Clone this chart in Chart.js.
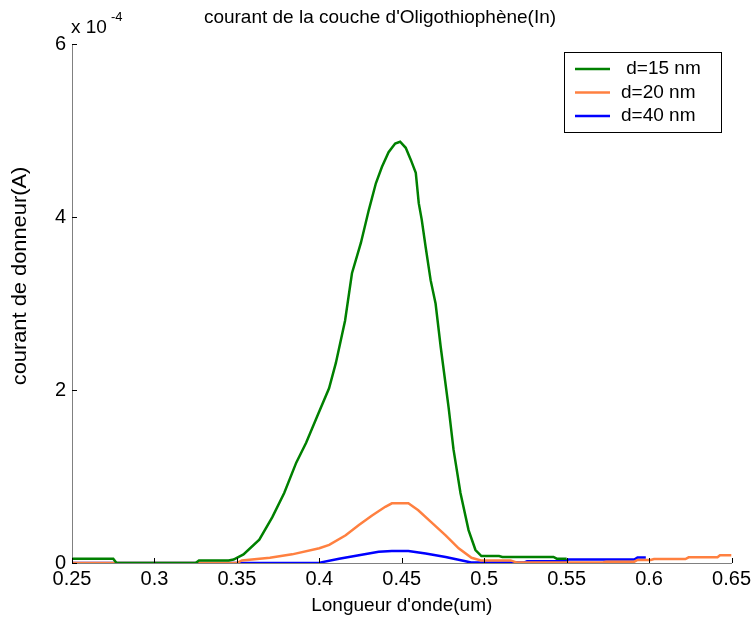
<!DOCTYPE html>
<html>
<head>
<meta charset="utf-8">
<script src="https://cdn.jsdelivr.net/npm/chart.js@4.4.1/dist/chart.umd.min.js"></script>
<style>
  html, body { margin: 0; padding: 0; background: #ffffff; }
  #wrap { width: 755px; height: 622px; position: relative; }
</style>
</head>
<body>
<div id="wrap"><canvas id="c" width="755" height="622"></canvas></div>
<script>
// Wavelength (um) and donor current (units of 1e-4 A) for each layer thickness
const xTicks = [0.25, 0.3, 0.35, 0.4, 0.45, 0.5, 0.55, 0.6, 0.65];
const yTicks = [0, 2, 4, 6];

const d15X = [0.25, 0.275, 0.277, 0.325, 0.327, 0.345, 0.348, 0.354, 0.3636, 0.3715, 0.3787, 0.386, 0.392, 0.3986, 0.4059, 0.410, 0.4156, 0.4198, 0.4252, 0.430, 0.4343, 0.438, 0.442, 0.446, 0.449, 0.4524, 0.4555, 0.4585, 0.4603, 0.4621, 0.4645, 0.4675, 0.4705, 0.4736, 0.4784, 0.4814, 0.4856, 0.4905, 0.4947, 0.4983, 0.509, 0.511, 0.542, 0.544, 0.55];
const d15Y = [0.05, 0.05, 0.0, 0.0, 0.03, 0.03, 0.04, 0.10, 0.27, 0.53, 0.81, 1.16, 1.39, 1.69, 2.02, 2.31, 2.80, 3.35, 3.70, 4.08, 4.39, 4.58, 4.75, 4.85, 4.87, 4.80, 4.66, 4.51, 4.16, 3.97, 3.65, 3.27, 3.00, 2.50, 1.80, 1.31, 0.81, 0.38, 0.15, 0.08, 0.08, 0.07, 0.07, 0.05, 0.05];

const d20X = [0.25, 0.35, 0.353, 0.37, 0.3835, 0.40, 0.406, 0.416, 0.424, 0.432, 0.440, 0.444, 0.454, 0.460, 0.468, 0.4766, 0.4845, 0.4923, 0.498, 0.516, 0.52, 0.572, 0.574, 0.591, 0.593, 0.601, 0.603, 0.622, 0.624, 0.6415, 0.643, 0.65];
const d20Y = [0.0, 0.0, 0.03, 0.06, 0.10, 0.17, 0.21, 0.32, 0.44, 0.55, 0.65, 0.69, 0.69, 0.61, 0.47, 0.32, 0.17, 0.06, 0.03, 0.03, 0.005, 0.005, 0.015, 0.015, 0.035, 0.035, 0.046, 0.046, 0.066, 0.066, 0.089, 0.089];

const d40X = [0.25, 0.40, 0.4017, 0.412, 0.424, 0.436, 0.444, 0.454, 0.4645, 0.4766, 0.4887, 0.492, 0.524, 0.526, 0.549, 0.551, 0.591, 0.593, 0.598];
const d40Y = [0.0, 0.0, 0.01, 0.05, 0.09, 0.13, 0.14, 0.14, 0.11, 0.07, 0.02, 0.005, 0.005, 0.02, 0.02, 0.04, 0.04, 0.065, 0.065];

const seriesLabels = [' d=15 nm', 'd=20 nm', 'd=40 nm'];
const seriesColors = ['#008000', '#ff8040', '#0000ff'];

const SCALE = 1e-4;
const toPoints = (xs, ys) => xs.map((x, i) => ({ x: x, y: ys[i] * SCALE }));

const FONT = '"Liberation Sans", Arial, sans-serif';

// Inward tick marks, axis titles, exponent label, title and boxed legend
const decorations = {
  id: 'decorations',
  afterDraw(chart) {
    const ctx = chart.ctx;
    const xs = chart.scales.x, ys = chart.scales.y;
    const area = chart.chartArea;
    ctx.save();
    ctx.strokeStyle = '#000000';
    ctx.lineWidth = 1;
    xTicks.forEach(v => {
      const px = Math.round(xs.getPixelForValue(v)) + 0.5;
      ctx.beginPath();
      ctx.moveTo(px, area.bottom);
      ctx.lineTo(px, area.bottom - 5);
      ctx.stroke();
    });
    yTicks.forEach(v => {
      const py = Math.round(ys.getPixelForValue(v * SCALE)) + 0.5;
      ctx.beginPath();
      ctx.moveTo(area.left, py);
      ctx.lineTo(area.left + 5, py);
      ctx.stroke();
    });

    ctx.fillStyle = '#000000';
    ctx.textBaseline = 'middle';

    // Title
    ctx.font = '19px ' + FONT;
    ctx.textAlign = 'center';
    ctx.fillText("courant de la couche d'Oligothiophène(In)", 380, 18);

    // Axis titles
    ctx.fillText("Longueur d'onde(um)", (area.left + area.right) / 2, 606);
    ctx.save();
    ctx.translate(21, 276);
    ctx.rotate(-Math.PI / 2);
    ctx.scale(1.12, 1);
    ctx.font = '19.5px ' + FONT;
    ctx.fillText('courant de donneur(A)', 0, 0);
    ctx.restore();

    // Exponent of the y axis
    ctx.textAlign = 'left';
    ctx.font = '19px ' + FONT;
    ctx.fillText('x 10', 71, 28);
    ctx.font = '13px ' + FONT;
    ctx.fillText('-4', 111, 17);

    // Legend box
    const lx = 564.5, ly = 52.5, lw = 157, lh = 80;
    ctx.fillStyle = '#ffffff';
    ctx.fillRect(lx, ly, lw, lh);
    ctx.strokeStyle = '#000000';
    ctx.lineWidth = 1;
    ctx.strokeRect(lx, ly, lw, lh);
    chart.data.datasets.forEach((ds, i) => {
      const ry = 69 + i * 23.5;
      ctx.strokeStyle = ds.borderColor;
      ctx.lineWidth = 2.5;
      ctx.beginPath();
      ctx.moveTo(575, ry);
      ctx.lineTo(610, ry);
      ctx.stroke();
      ctx.fillStyle = '#000000';
      ctx.font = '19px ' + FONT;
      ctx.textAlign = 'left';
      ctx.textBaseline = 'middle';
      ctx.fillText(ds.label, 621, ry);
    });
    ctx.restore();
  }
};

new Chart(document.getElementById('c'), {
  type: 'line',
  data: {
    datasets: [
      { label: seriesLabels[0], data: toPoints(d15X, d15Y), borderColor: seriesColors[0] },
      { label: seriesLabels[1], data: toPoints(d20X, d20Y), borderColor: seriesColors[1] },
      { label: seriesLabels[2], data: toPoints(d40X, d40Y), borderColor: seriesColors[2] }
    ].map(ds => Object.assign(ds, { borderWidth: 2.5, pointRadius: 0, tension: 0, fill: false }))
  },
  options: {
    responsive: false,
    animation: false,
    events: [],
    layout: { padding: { top: 44, right: 21, left: 0, bottom: 0 } },
    plugins: { legend: { display: false }, title: { display: false }, tooltip: { enabled: false } },
    scales: {
      x: {
        type: 'linear',
        min: 0.25,
        max: 0.65,
        afterBuildTicks: (s) => { s.ticks = xTicks.map(v => ({ value: v })); },
        ticks: {
          color: '#000000',
          font: { family: FONT, size: 20 },
          padding: 4,
          maxRotation: 0,
          autoSkip: false,
          callback: (v) => String(+v.toFixed(2))
        },
        grid: { display: false, drawTicks: false },
        border: { display: true, color: '#808080', width: 1 },
        afterFit: (s) => { s.height = 59; }
      },
      y: {
        type: 'linear',
        min: 0,
        max: 6 * SCALE,
        afterBuildTicks: (s) => { s.ticks = yTicks.map(v => ({ value: v * SCALE })); },
        ticks: {
          color: '#000000',
          font: { family: FONT, size: 20 },
          padding: 6,
          autoSkip: false,
          callback: (v) => String(Math.round(v / SCALE))
        },
        grid: { display: false, drawTicks: false },
        border: { display: true, color: '#808080', width: 1 },
        afterFit: (s) => { s.width = 72; }
      }
    }
  },
  plugins: [decorations]
});
</script>
</body>
</html>
